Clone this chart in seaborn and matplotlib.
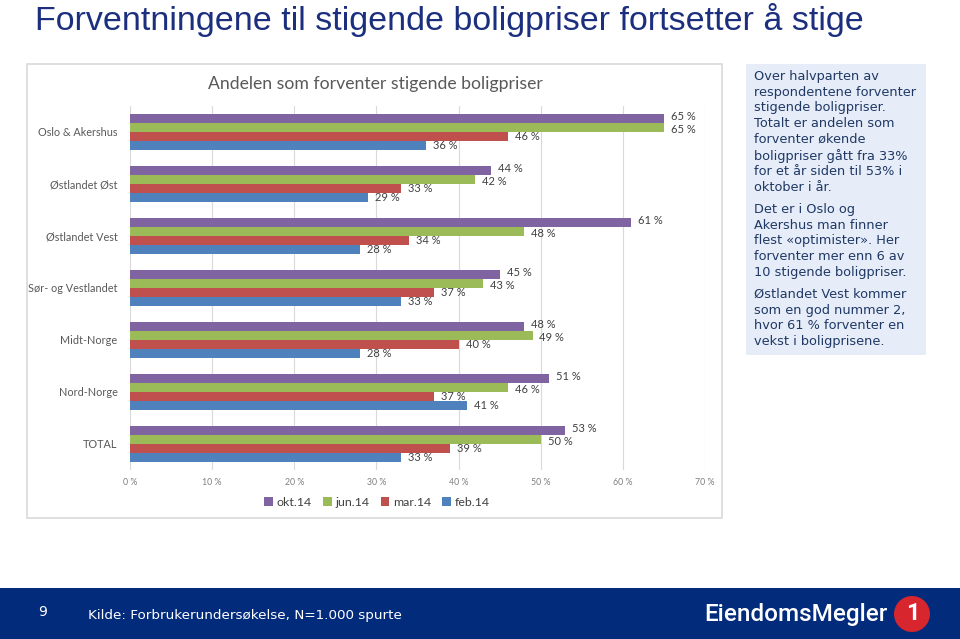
import numpy as np
import pandas as pd
import matplotlib.pyplot as plt
import seaborn as sns
from matplotlib.patches import Rectangle, Ellipse

# ── data ────────────────────────────────────────────────────────────
regions = ["Oslo & Akershus", "Østlandet Øst", "Østlandet Vest",
           "Sør- og Vestlandet", "Midt-Norge", "Nord-Norge", "TOTAL"]
periods = ["okt.14", "jun.14", "mar.14", "feb.14"]
okt14 = [65, 44, 61, 45, 48, 51, 53]
jun14 = [65, 42, 48, 43, 49, 46, 50]
mar14 = [46, 33, 34, 37, 40, 37, 39]
feb14 = [36, 29, 28, 33, 28, 41, 33]
x_ticks = [0, 10, 20, 30, 40, 50, 60, 70]
x_tick_labels = [f"{t} %" for t in x_ticks]
bar_colors = ["#8064A2", "#9BBB59", "#C0504D", "#4F81BD"]

title = "Forventningene til stigende boligpriser fortsetter å stige"
chart_title = "Andelen som forventer stigende boligpriser"
side_text = [
    "Over halvparten av\nrespondentene forventer\nstigende boligpriser.\n"
    "Totalt er andelen som\nforventer økende\nboligpriser gått fra 33%\n"
    "for et år siden til 53% i\noktober i år.",
    "Det er i Oslo og\nAkershus man finner\nflest «optimister». Her\n"
    "forventer mer enn 6 av\n10 stigende boligpriser.",
    "Østlandet Vest kommer\nsom en god nummer 2,\nhvor 61 % forventer en\n"
    "vekst i boligprisene.",
]
source = "Kilde: Forbrukerundersøkelse, N=1.000 spurte"

df = pd.DataFrame({
    "region": regions * len(periods),
    "period": np.repeat(periods, len(regions)),
    "share": okt14 + jun14 + mar14 + feb14,
})

# ── figure ──────────────────────────────────────────────────────────
sns.set_theme(style="white")
plt.rcParams["font.family"] = ["Lato", "DejaVu Sans"]

W, H = 960, 639
fig = plt.figure(figsize=(9.6, 6.39), dpi=100)


def fx(x):
    return x / W


def fy(y):
    return 1 - y / H


# chart frame
fig.add_artist(Rectangle((fx(27), fy(518)), 695 / W, 454 / H, transform=fig.transFigure,
                         fill=False, ec="#D9D9D9", lw=1.2))

ax = fig.add_axes([fx(130), fy(470), 575 / W, 364 / H])
sns.barplot(data=df, x="share", y="region", hue="period", order=regions,
            hue_order=periods, palette=dict(zip(periods, bar_colors)),
            orient="h", width=0.68, saturation=1, errorbar=None, ax=ax,
            edgecolor="none", linewidth=0)

# value labels; nudge the top two series apart so close values stay readable
nudge = [1.6, -1.6, 0, 0]
for cont, dy in zip(ax.containers, nudge):
    anns = ax.bar_label(cont, fmt="{:.0f} %", padding=5, fontsize=8, color="#404040")
    for a in anns:
        a.xyann = (a.xyann[0], a.xyann[1] + dy)

ax.set_xlim(0, 70)
ax.set_ylim(6.5, -0.5)
ax.set_xticks(x_ticks, x_tick_labels)
ax.set_xlabel("")
ax.set_ylabel("")
ax.grid(axis="x", color="#D9D9D9", lw=0.8)
ax.set_axisbelow(True)
sns.despine(ax=ax, left=True, bottom=True)
ax.tick_params(axis="y", length=0, pad=9, labelsize=7.8, labelcolor="#595959")
ax.tick_params(axis="x", length=0, pad=6, labelsize=6.3, labelcolor="#7F7F7F")

handles, labels = ax.get_legend_handles_labels()
ax.legend_.remove()
fig.legend(handles, labels, loc="center", bbox_to_anchor=(fx(377), fy(502)), ncol=4,
           frameon=False, handlelength=0.7, handleheight=0.7, handletextpad=0.3,
           columnspacing=0.9, fontsize=8.9, labelcolor="#404040")

fig.text(fx(375), fy(84), chart_title, ha="center", va="center", fontsize=12.7, color="#595959")

# page title
fig.text(fx(35), fy(20), title, ha="left", va="center", fontsize=24.5, color="#1B2F7E",
         family="Liberation Sans")

# side text box
fig.add_artist(Rectangle((fx(746), fy(355)), 180 / W, 291 / H, transform=fig.transFigure,
                         fc="#E6EDF9", ec="none"))
for para, top in zip(side_text, [70, 203, 288]):
    fig.text(fx(754), fy(top), para, ha="left", va="top", fontsize=9.3, color="#1F3864",
             family="DejaVu Sans", linespacing=1.27)

# footer band
fig.add_artist(Rectangle((0, 0), 1, 51 / H, transform=fig.transFigure,
                         fc="#032B7C", ec="none"))
fig.text(fx(43), fy(612), "9", ha="center", va="center", fontsize=10, color="white",
         family="DejaVu Sans")
fig.text(fx(88), fy(616), source, ha="left", va="center", fontsize=9.7, color="white",
         family="DejaVu Sans")
fig.text(fx(888), fy(615), "EiendomsMegler", ha="right", va="center", fontsize=17.5,
         color="white", family="Roboto", weight="medium")
fig.add_artist(Ellipse((fx(912), fy(614)), 36 / W, 36 / H, transform=fig.transFigure,
                       fc="#D7262D", ec="none"))
fig.text(fx(913), fy(614), "1", ha="center", va="center", fontsize=17, color="white",
         weight="bold", family="Roboto")

fig.savefig("out.png", dpi=100)
